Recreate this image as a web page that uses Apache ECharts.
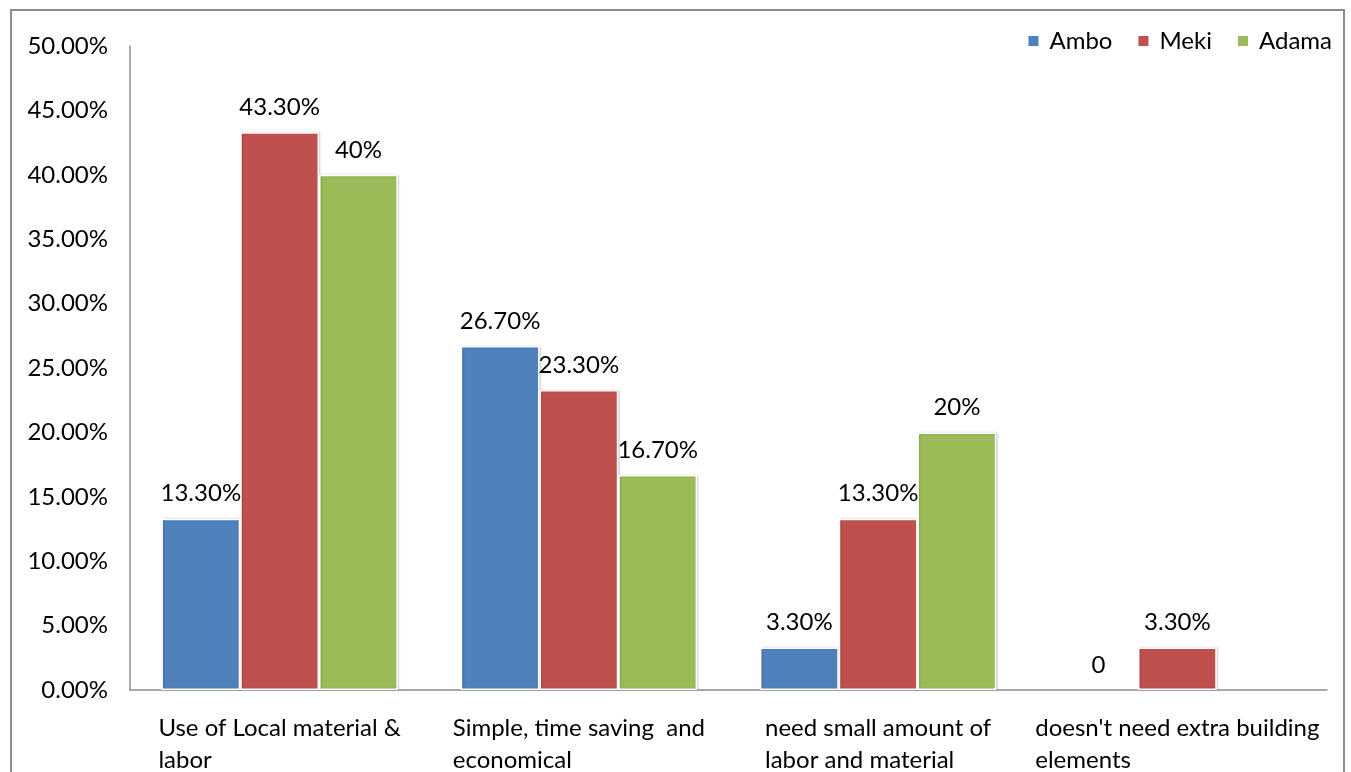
<!DOCTYPE html>
<html>
<head>
<meta charset="utf-8">
<script src="https://cdn.jsdelivr.net/npm/echarts@6/dist/echarts.min.js"></script>
<style>
html,body{margin:0;padding:0;background:#fff;}
#chart{width:1351px;height:772px;}
</style>
</head>
<body>
<div id="chart"></div>
<script>
const categories = ["Use of Local material &\nlabor", "Simple, time saving  and\neconomical", "need small amount of\nlabor and material", "doesn't need extra building\nelements"];
const seriesNames = ["Ambo", "Meki", "Adama"];
const ambo = [13.3, 26.7, 3.3, 0];
const meki = [43.3, 23.3, 13.3, 3.3];
const adama = [40, 16.7, 20, null];
const amboLabels = ["13.30%", "26.70%", "3.30%", "0"];
const mekiLabels = ["43.30%", "23.30%", "13.30%", "3.30%"];
const adamaLabels = ["40%", "16.70%", "20%", ""];
const yTicks = ["0.00%", "5.00%", "10.00%", "15.00%", "20.00%", "25.00%", "30.00%", "35.00%", "40.00%", "45.00%", "50.00%"];
const colors = ["#4F81BD", "#C0504D", "#9BBB59"];

const FONT = "Lato, 'Open Sans', sans-serif";
const FS = 24;
const chart = echarts.init(document.getElementById('chart'));

function mk(name, data, labels, color) {
  return {
    name: name,
    type: 'bar',
    data: data.map(function (v) {
      return v === 0 ? { value: v, itemStyle: { borderWidth: 0, shadowBlur: 0, shadowOffsetX: 0 } } : v;
    }),
    barGap: '0%',
    barCategoryGap: '21%',
    itemStyle: {
      color: color,
      borderColor: '#ffffff',
      borderWidth: 1.5,
      shadowColor: 'rgba(0,0,0,0.18)',
      shadowBlur: 2,
      shadowOffsetX: 1,
      shadowOffsetY: 0
    },
    label: {
      show: true,
      position: 'top',
      distance: 13,
      color: '#000',
      fontSize: FS,
      fontFamily: FONT,
      formatter: function (p) { return labels[p.dataIndex]; }
    }
  };
}

chart.setOption({
  animation: false,
  color: colors,
  textStyle: { fontFamily: FONT },
  graphic: {
    elements: [{
      type: 'polyline',
      shape: { points: [[11, 772], [11, 10], [1344, 10], [1344, 772]] },
      style: { fill: null, stroke: '#8c8c8c', lineWidth: 2 },
      z: 100,
      silent: true
    }]
  },
  legend: {
    data: seriesNames,
    right: 14,
    top: 24,
    itemWidth: 12,
    itemHeight: 12,
    itemGap: 24,
    icon: 'rect',
    textStyle: { fontSize: FS, color: '#000', fontFamily: FONT, padding: [0, 0, 0, 5] }
  },
  grid: { left: 130, right: 24, top: 46, bottom: 82, containLabel: false, outerBoundsMode: 'none' },
  xAxis: {
    type: 'category',
    data: categories,
    axisLine: { lineStyle: { color: '#8c8c8c', width: 1.5 } },
    axisTick: { show: false },
    axisLabel: {
      color: '#000', fontSize: FS, fontFamily: FONT, lineHeight: 32,
      margin: 22, align: 'center',
      interval: 0,
      hideOverlap: false,
      formatter: function (v) {
        return v.split('\n').map(function (s) { return '{l|' + s + '}'; }).join('\n');
      },
      rich: {
        l: { align: 'left', fontSize: FS, fontFamily: FONT, color: '#000', lineHeight: 32 }
      }
    }
  },
  yAxis: {
    type: 'value',
    min: 0, max: 50, interval: 5,
    axisLine: { show: true, lineStyle: { color: '#8c8c8c', width: 1.5 } },
    axisTick: { show: false },
    splitLine: { show: false },
    axisLabel: {
      color: '#000', fontSize: FS, fontFamily: FONT, margin: 22,
      formatter: function (v) { return yTicks[Math.round(v / 5)]; }
    }
  },
  series: [
    mk(seriesNames[0], ambo, amboLabels, colors[0]),
    mk(seriesNames[1], meki, mekiLabels, colors[1]),
    mk(seriesNames[2], adama, adamaLabels, colors[2])
  ]
});
</script>
</body>
</html>
